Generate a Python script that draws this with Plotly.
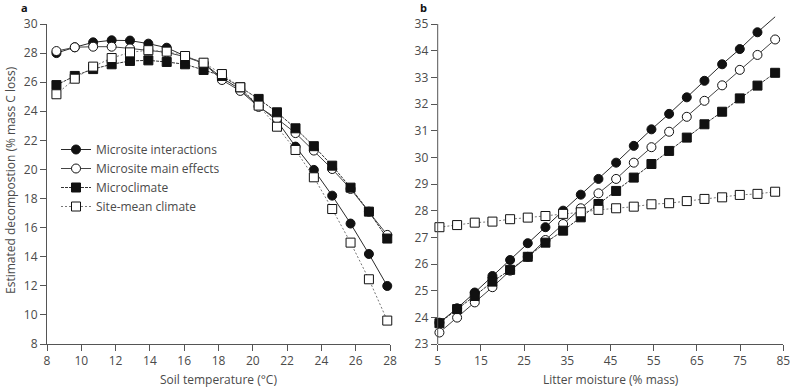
import plotly.graph_objects as go

# ---- Panel a: soil temperature ----
temp_x = [8.55, 9.62, 10.69, 11.77, 12.84, 13.91, 14.98, 16.05, 17.13, 18.2,
          19.27, 20.34, 21.41, 22.49, 23.56, 24.63, 25.7, 26.77, 27.84]
a_interactions = [28.0, 28.4, 28.74, 28.88, 28.86, 28.65, 28.37, 27.8, 27.3, 26.3,
                  25.5, 24.37, 23.35, 21.57, 19.97, 18.2, 16.28, 14.19, 11.99]
a_main = [28.14, 28.4, 28.44, 28.44, 28.32, 28.2, 28.05, 27.75, 27.3, 26.15,
          25.4, 24.3, 23.5, 22.5, 21.3, 20.03, 18.66, 17.1, 15.5]
a_microclimate = [25.8, 26.43, 26.9, 27.23, 27.46, 27.5, 27.39, 27.23, 26.84, 26.43,
                  25.65, 24.85, 23.93, 22.83, 21.6, 20.26, 18.75, 17.1, 15.25]
a_sitemean = [25.17, 26.24, 27.07, 27.66, 28.05, 28.2, 28.1, 27.8, 27.34, 26.56,
              25.65, 24.39, 22.94, 21.34, 19.46, 17.28, 14.97, 12.45, 9.61]

# ---- Panel b: litter moisture ----
moist_x = [5.4, 9.49, 13.58, 17.67, 21.76, 25.85, 29.94, 34.03, 38.12, 42.21,
           46.3, 50.39, 54.48, 58.57, 62.66, 66.75, 70.84, 74.93, 79.02, 83.11]
b_interactions = [23.8, 24.34, 24.93, 25.55, 26.15, 26.78, 27.38, 28.0, 28.6, 29.19,
                  29.8, 30.43, 31.05, 31.63, 32.25, 32.87, 33.49, 34.06, 34.69, 35.27]
b_main = [23.43, 23.99, 24.56, 25.13, 25.75, 26.27, 26.9, 27.5, 28.09, 28.65,
          29.19, 29.8, 30.38, 30.96, 31.52, 32.12, 32.7, 33.28, 33.84, 34.42]
b_microclimate = [23.78, 24.31, 24.8, 25.34, 25.78, 26.27, 26.8, 27.25, 27.75, 28.25,
                  28.74, 29.24, 29.75, 30.24, 30.74, 31.24, 31.71, 32.21, 32.69, 33.17]
b_sitemean = [27.38, 27.46, 27.55, 27.59, 27.68, 27.74, 27.8, 27.88, 27.94, 28.03,
              28.09, 28.15, 28.24, 28.28, 28.36, 28.44, 28.5, 28.59, 28.63, 28.71]

series_names = ["Microsite interactions", "Microsite main effects", "Microclimate", "Site-mean climate"]
a_tick_vals = [8, 10, 12, 14, 16, 18, 20, 22, 24, 26, 28]
a_y_ticks = [8, 10, 12, 14, 16, 18, 20, 22, 24, 26, 28, 30]
b_tick_vals = [5, 15, 25, 35, 45, 55, 65, 75, 85]
b_y_ticks = list(range(23, 36))

FONT = "Open Sans"
TXT = "#4a4a4a"
FS = 12

styles = [
    dict(symbol="circle", mcolor="#111111", lcolor="#2a2a2a", dash="solid"),
    dict(symbol="circle", mcolor="white", lcolor="#444444", dash="solid"),
    dict(symbol="square", mcolor="#111111", lcolor="#333333", dash="3px,1px"),
    dict(symbol="square", mcolor="white", lcolor="#777777", dash="2px,2px"),
]

fig = go.Figure()
a_series = [a_interactions, a_main, a_microclimate, a_sitemean]
b_series = [b_interactions, b_main, b_microclimate, b_sitemean]

for name, ys, st in zip(series_names, a_series, styles):
    fig.add_trace(go.Scatter(
        x=temp_x, y=ys, name=name, mode="lines+markers", xaxis="x", yaxis="y",
        line=dict(color=st["lcolor"], width=1, dash=st["dash"]),
        marker=dict(symbol=st["symbol"], size=9, color=st["mcolor"], opacity=1,
                    line=dict(color="#111111", width=1)),
        showlegend=True, cliponaxis=False,
    ))

for name, ys, st in zip(series_names, b_series, styles):
    n = len(ys)
    sizes = [9] * n
    if ys is b_interactions:
        sizes[-1] = 0  # line continues beyond the axis top without a visible marker
    fig.add_trace(go.Scatter(
        x=moist_x, y=ys, name=name, mode="lines+markers", xaxis="x2", yaxis="y2",
        line=dict(color=st["lcolor"], width=1, dash=st["dash"]),
        marker=dict(symbol=st["symbol"], size=sizes, color=st["mcolor"], opacity=1,
                    line=dict(color="#111111", width=1)),
        showlegend=False, cliponaxis=False,
    ))

axis_common = dict(
    showgrid=False, zeroline=False, showline=True, linecolor="#555555", linewidth=1,
    ticks="outside", ticklen=6, tickwidth=1, tickcolor="#555555", automargin=False,
    ticklabeloverflow="allow",
    tickfont=dict(family=FONT, size=FS, color=TXT),
)

PLOT_H = 328.0
fig.update_layout(
    width=790, height=388,
    margin=dict(l=0, r=0, t=16, b=44),
    plot_bgcolor="white", paper_bgcolor="white",
    font=dict(family=FONT, color=TXT),
    xaxis=dict(domain=[47 / 790, 390 / 790], range=[8, 28], tickvals=a_tick_vals,
               anchor="y", **axis_common),
    yaxis=dict(domain=[0, 320 / PLOT_H], range=[8, 30], tickvals=a_y_ticks,
               anchor="x", **axis_common),
    xaxis2=dict(domain=[437.7 / 790, 783.3 / 790], range=[5, 85], tickvals=b_tick_vals,
                anchor="y2", **axis_common),
    yaxis2=dict(domain=[0, 1], range=[23, 23 + 12 * PLOT_H / 320], tickvals=b_y_ticks,
                anchor="x2", **{**axis_common, "showline": False}),
    legend=dict(x=56 / 790, y=(344 - 135) / PLOT_H, xanchor="left", yanchor="top",
                bgcolor="rgba(0,0,0,0)", font=dict(family=FONT, size=FS, color=TXT),
                tracegroupgap=0, itemwidth=30),
    shapes=[dict(type="line", xref="x2 domain", yref="y2", x0=0, x1=0, y0=23, y1=35,
                 line=dict(color="#555555", width=1))],
    annotations=[
        dict(text="Soil temperature (°C)", x=(47 + 390) / 2 / 790, y=(344 - 379) / PLOT_H,
             xref="paper", yref="paper", xanchor="center", yanchor="middle", showarrow=False,
             font=dict(family=FONT, size=FS, color=TXT)),
        dict(text="Litter moisture (% mass)", x=(437.7 + 783.3) / 2 / 790, y=(344 - 379) / PLOT_H,
             xref="paper", yref="paper", xanchor="center", yanchor="middle", showarrow=False,
             font=dict(family=FONT, size=FS, color=TXT)),
        dict(text="Estimated decompostion (% mass C loss)", x=10 / 790, y=(344 - 180) / PLOT_H,
             xref="paper", yref="paper", xanchor="center", yanchor="middle", showarrow=False,
             textangle=-90, font=dict(family=FONT, size=FS, color=TXT)),
        dict(text="<b>a</b>", x=24 / 790, y=(344 - 8) / PLOT_H, xref="paper", yref="paper",
             xanchor="center", yanchor="middle",
             showarrow=False, font=dict(family=FONT, size=11, color="#111111")),
        dict(text="<b>b</b>", x=423 / 790, y=(344 - 8) / PLOT_H, xref="paper", yref="paper",
             xanchor="center", yanchor="middle",
             showarrow=False, font=dict(family=FONT, size=11, color="#111111")),
    ],
)

fig.write_html(
    "out.html",
    config={"displayModeBar": False},
    post_script="document.body.style.margin='0';document.body.style.overflow='hidden';",
)
